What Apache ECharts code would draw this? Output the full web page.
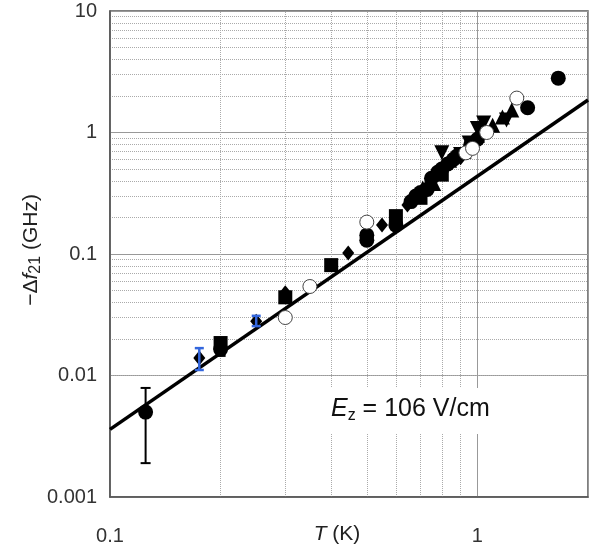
<!DOCTYPE html>
<html><head><meta charset="utf-8">
<script src="https://cdn.jsdelivr.net/npm/echarts@6/dist/echarts.min.js"></script>
<style>html,body{margin:0;padding:0;background:#fff}#c{width:594px;height:552px}</style>
</head><body><div id="c"></div>
<script>
// ---- tick / grid values ----
const xTicks = [0.1, 1];
const yTicks = [0.001, 0.01, 0.1, 1, 10];
const xMinor = [0.2, 0.3, 0.4, 0.5, 0.6, 0.7, 0.8, 0.9];
const yMinorMult = [2, 3, 4, 5, 6, 7, 8, 9];
const yDecades = [0.001, 0.01, 0.1, 1];

// ---- data (T in K, -Δf21 in GHz) ----
const filledCircles = [
  [0.125, 0.0050], [0.2, 0.0165], [0.5, 0.143], [0.5, 0.130], [0.6, 0.173],
  [0.66, 0.27], [0.68, 0.30], [0.70, 0.32], [0.73, 0.34], [0.75, 0.42],
  [0.78, 0.47], [0.80, 0.50], [0.83, 0.55], [0.86, 0.60], [0.88, 0.64],
  [0.96, 0.80], [1.0, 0.88], [1.37, 1.60], [1.66, 2.80]
];
const openCircles = [
  [0.3, 0.030], [0.35, 0.054], [0.5, 0.183], [0.93, 0.68], [0.97, 0.74],
  [1.06, 1.00], [1.28, 1.92]
];
const diamonds = [
  [0.175, 0.0139], [0.25, 0.028], [0.3, 0.048], [0.445, 0.102], [0.55, 0.173],
  [0.645, 0.253], [0.75, 0.36], [0.9, 0.62]
];
const squares = [
  [0.2, 0.0185], [0.3, 0.044], [0.4, 0.081], [0.6, 0.205], [0.7, 0.29], [0.8, 0.45]
];
const trianglesUp = [
  [0.71, 0.35], [0.74, 0.40], [0.76, 0.38], [0.84, 0.59], [0.92, 0.70], [1.0, 0.95],
  [1.1, 1.15], [1.17, 1.34], [1.24, 1.53]
];
const trianglesDown = [
  [0.8, 0.68], [0.9, 0.66], [0.95, 0.82], [1.0, 1.08], [1.04, 1.20], [1.2, 1.27]
];
const errBlack = [[0.125, 0.0019, 0.0079], [0.2, 0.0145, 0.0185]];
const errBlue = [[0.175, 0.0111, 0.0168], [0.25, 0.0255, 0.0310]];
const fitLine = [[0.1, 0.0036], [2, 1.85]];

const FONT = "'Liberation Sans', Arial, sans-serif";

const yMinor = [];
yDecades.forEach(d => yMinorMult.forEach(m => yMinor.push(+(d * m).toPrecision(3))));

function errRender(color, capW, lw) {
  return function (params, api) {
    const x = api.value(0), lo = api.value(1), hi = api.value(2);
    const a = api.coord([x, lo]), b = api.coord([x, hi]);
    const st = { stroke: color, lineWidth: lw };
    return { type: 'group', children: [
      { type: 'line', shape: { x1: a[0], y1: a[1], x2: b[0], y2: b[1] }, style: st },
      { type: 'line', shape: { x1: a[0] - capW, y1: a[1], x2: a[0] + capW, y2: a[1] }, style: st },
      { type: 'line', shape: { x1: b[0] - capW, y1: b[1], x2: b[0] + capW, y2: b[1] }, style: st }
    ]};
  };
}

const chart = echarts.init(document.getElementById('c'));
const minorLines = xMinor.map(v => ({ xAxis: v })).concat(yMinor.map(v => ({ yAxis: v })));
const solid = { color: '#000', opacity: 1 };

chart.setOption({
  animation: false,
  backgroundColor: '#fff',
  grid: { left: 110, top: 11, right: 6, bottom: 55, show: true, borderColor: '#555', borderWidth: 1.5, backgroundColor: 'transparent' },
  xAxis: {
    type: 'log', logBase: 10, min: 0.1, max: 2,
    axisLine: { show: true, lineStyle: { color: '#555', width: 1.5 } },
    axisTick: { show: false },
    axisLabel: {
      margin: 29, fontSize: 20, color: '#333', fontFamily: FONT,
      formatter: v => (xTicks.some(t => Math.abs(t - v) < 1e-9) ? String(v) : '')
    },
    splitLine: { show: true, lineStyle: { color: '#999', width: 1 } }
  },
  yAxis: {
    type: 'log', logBase: 10, min: 0.001, max: 10,
    axisLine: { show: true, lineStyle: { color: '#555', width: 1.5 } },
    axisTick: { show: false },
    axisLabel: {
      margin: 13, fontSize: 20, color: '#333', fontFamily: FONT,
      formatter: v => (yTicks.some(t => Math.abs(t - v) / t < 1e-6) ? String(v) : '')
    },
    splitLine: { show: true, lineStyle: { color: '#999', width: 1 } }
  },
  series: [
    {
      type: 'line', data: [], z: 0, silent: true,
      markLine: {
        z: 0, silent: true, symbol: 'none', animation: false,
        label: { show: false },
        lineStyle: { color: '#aaa', type: 'dotted', width: 1 },
        data: minorLines
      }
    },
    {
      type: 'line', data: fitLine, symbol: 'none', z: 2,
      lineStyle: { color: '#000', width: 3.5 }
    },
    { type: 'scatter', data: squares, symbol: 'rect', symbolSize: 14, z: 3, itemStyle: solid },
    { type: 'scatter', data: diamonds, symbol: 'diamond', symbolSize: [12, 15], z: 3, itemStyle: solid },
    { type: 'scatter', data: trianglesUp, symbol: 'triangle', symbolSize: 15, z: 3, itemStyle: solid },
    { type: 'scatter', data: trianglesDown, symbol: 'triangle', symbolRotate: 180, symbolSize: 15, z: 3, itemStyle: solid },
    { type: 'scatter', data: filledCircles, symbol: 'circle', symbolSize: 15, z: 4, itemStyle: solid },
    { type: 'scatter', data: openCircles, symbol: 'circle', symbolSize: 14, z: 5, itemStyle: { color: '#fff', opacity: 1, borderColor: '#444', borderWidth: 1 } },
    { type: 'custom', data: errBlack, encode: { x: 0, y: [1, 2] }, z: 6, renderItem: errRender('#000', 5, 2) },
    { type: 'custom', data: errBlue, encode: { x: 0, y: [1, 2] }, z: 6, renderItem: errRender('#3366dd', 4.5, 2.5) }
  ],
  graphic: [
    { type: 'rect', z: 50, shape: { x: 318, y: 388, width: 200, height: 46 }, style: { fill: '#fff' } },
    {
      type: 'text', z: 51, x: 331, y: 409,
      style: {
        text: '{i|E}{s|z}{n| = 106 V/cm}', align: 'left', verticalAlign: 'middle',
        rich: {
          i: { fontSize: 25, fontStyle: 'italic', fontFamily: FONT, fill: '#111', lineHeight: 30 },
          s: { fontSize: 16, fontFamily: FONT, fill: '#111', lineHeight: 14, verticalAlign: 'bottom' },
          n: { fontSize: 25, fontFamily: FONT, fill: '#111', lineHeight: 30 }
        }
      }
    },
    {
      type: 'text', z: 51, x: 31, y: 250, rotation: Math.PI / 2,
      style: {
        text: '{n|−Δ}{i|f}{s|21}{n| (GHz)}', align: 'center', verticalAlign: 'middle',
        rich: {
          n: { fontSize: 21, fontFamily: FONT, fill: '#222', lineHeight: 26 },
          i: { fontSize: 21, fontStyle: 'italic', fontFamily: FONT, fill: '#222', lineHeight: 26 },
          s: { fontSize: 16, fontFamily: FONT, fill: '#222', lineHeight: 12, verticalAlign: 'bottom' }
        }
      }
    },
    {
      type: 'text', z: 51, x: 337, y: 534,
      style: {
        text: '{i|T}{n| (K)}', align: 'center', verticalAlign: 'middle',
        rich: {
          i: { fontSize: 21, fontStyle: 'italic', fontFamily: FONT, fill: '#222' },
          n: { fontSize: 21, fontFamily: FONT, fill: '#222' }
        }
      }
    }
  ]
});
</script></body></html>
